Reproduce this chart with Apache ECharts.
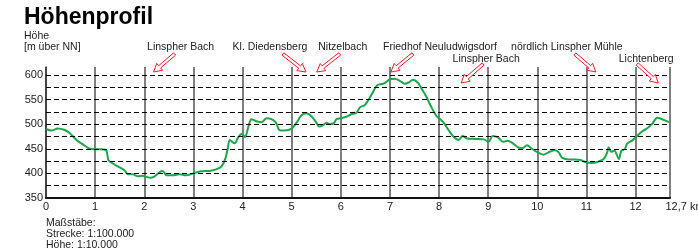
<!DOCTYPE html>
<html>
<head>
<meta charset="utf-8">
<script src="https://cdn.jsdelivr.net/npm/echarts@6/dist/echarts.min.js"></script>
<style>
  html, body { margin: 0; padding: 0; background: #fff; }
  #chart { width: 698px; height: 248px; }
</style>
</head>
<body>
<div id="chart"></div>
<script>
// Streckenkilometer und Höhe (m über NN)
const distanceKm = [
    0, 0.11, 0.24, 0.38, 0.48, 0.62, 0.75, 0.87, 1.0, 1.13, 1.23, 1.27, 1.36, 1.5, 1.6, 1.67, 1.77, 1.87, 1.97, 2.04,
    2.13, 2.21, 2.28, 2.36, 2.4, 2.45, 2.58, 2.72, 2.85, 3.0, 3.13, 3.33, 3.46, 3.57, 3.65, 3.7, 3.74, 3.84, 3.91, 3.98,
    4.05, 4.12, 4.18, 4.28, 4.39, 4.49, 4.59, 4.68, 4.75, 4.86, 5.0, 5.1, 5.2, 5.3, 5.4, 5.49, 5.56, 5.64, 5.71, 5.78,
    5.86, 5.91, 6.0, 6.11, 6.21, 6.32, 6.39, 6.49, 6.58, 6.66, 6.74, 6.86, 6.93, 7.0, 7.1, 7.2, 7.3, 7.37, 7.47, 7.57,
    7.64, 7.74, 7.84, 7.95, 8.0, 8.1, 8.2, 8.3, 8.4, 8.48, 8.57, 8.74, 8.91, 9.01, 9.09, 9.2, 9.3, 9.39, 9.49, 9.59,
    9.69, 9.79, 9.89, 10.0, 10.13, 10.25, 10.37, 10.44, 10.5, 10.64, 10.77, 10.88, 10.98, 11.1, 11.22, 11.35, 11.42, 11.45, 11.5, 11.57,
    11.62, 11.66, 11.71, 11.78, 11.83, 11.92, 12.0, 12.13, 12.23, 12.34, 12.44, 12.54, 12.68
];
const elevation = [
    490, 487, 491, 488, 482, 468, 459, 451, 449, 449, 446, 427, 420, 412, 406, 398, 398, 394, 395, 393,
    391, 394, 400, 405, 403, 396, 396, 398, 396, 400, 404, 405, 408, 414, 430, 451, 468, 461, 473, 480,
    474, 495, 510, 506, 504, 512, 510, 503, 488, 487, 491, 503, 518, 522, 516, 505, 495, 498, 503, 500,
    502, 510, 512, 515, 520, 523, 534, 539, 552, 566, 579, 582, 586, 591, 592, 588, 582, 584, 590, 584,
    573, 556, 535, 516, 512, 502, 487, 474, 468, 476, 471, 470, 469, 464, 476, 473, 464, 466, 462, 454,
    451, 457, 450, 443, 438, 444, 447, 442, 432, 428, 428, 427, 423, 421, 423, 429, 442, 453, 444, 446,
    437, 429, 446, 449, 461, 466, 473, 485, 491, 501, 513, 510, 504
];
const dashedLevels = [375, 400, 425, 450, 475, 500, 525, 550, 575, 600];

// Ortsangaben: Zielpunkt (km), Zeile, Pfeil- und Textversatz in px
const placeNames = ['Linspher Bach', 'Kl. Diedensberg', 'Nitzelbach', 'Friedhof Neuludwigsdorf',
    'Linspher Bach', 'nördlich Linspher Mühle', 'Lichtenberg'];
const placeKm = [2.19, 5.29, 5.51, 7.02, 8.45, 11.19, 12.46];
const placeRow = [0, 0, 0, 0, 1, 0, 1];
const tailDx = [21, -23, 23, 22, 22, -21, -21];
const labelDx = [27, -36, 26, 49, 25, -29, -12];

const profile = distanceKm.map((d, i) => [d, elevation[i]]);

const chart = echarts.init(document.getElementById('chart'));
chart.setOption({
    animation: false,
    textStyle: { fontFamily: 'Liberation Sans, Arial, sans-serif' },
    grid: { left: 46, right: 28, top: 67, bottom: 50, outerBoundsMode: 'none', containLabel: false },
    xAxis: {
        type: 'value',
        min: 0,
        max: 12.7,
        interval: 1,
        axisLine: { show: true, onZero: false, lineStyle: { color: '#111', width: 2 } },
        axisTick: { show: false },
        axisLabel: {
            color: '#222',
            fontSize: 11,
            margin: 3,
            formatter: v => (v === 12.7 ? '{k|12,7 km}' : String(v)),
            rich: { k: { fontSize: 11, color: '#222', padding: [0, 0, 0, 30] } }
        },
        splitLine: { show: true, lineStyle: { color: '#555', width: 1.5 } }
    },
    yAxis: {
        type: 'value',
        min: 350,
        max: 616,
        interval: 50,
        axisLine: { show: true, lineStyle: { color: '#333', width: 1.5 } },
        axisTick: { show: false },
        axisLabel: { color: '#222', fontSize: 11, margin: 3, showMaxLabel: false },
        splitLine: { show: false }
    },
    series: [{
        type: 'line',
        data: profile,
        smooth: 0.3,
        symbol: 'none',
        lineStyle: { color: '#1ea64c', width: 2 },
        markLine: {
            silent: true,
            symbol: 'none',
            label: { show: false },
            lineStyle: { color: '#000', width: 1, type: [5, 3] },
            data: dashedLevels.map(v => ({ yAxis: v }))
        },
        z: 3
    }]
});

// Beschriftungen und Pfeile
function arrowPoints(t, h) {
    const dx = h[0] - t[0], dy = h[1] - t[1];
    const len = Math.sqrt(dx * dx + dy * dy);
    const u = [dx / len, dy / len], n = [-u[1], u[0]];
    const p = (a, b) => [t[0] + a * u[0] + b * n[0], t[1] + a * u[1] + b * n[1]];
    const hl = 8;
    return [p(0, -1.5), p(len - hl, -1.5), p(len - hl, -4.5), p(len, 0),
        p(len - hl, 4.5), p(len - hl, 1.5), p(0, 1.5)];
}

const rowHeadY = [72, 83], rowTailY = [54, 64], rowLabelY = [47, 59];
const small = '10.5px Liberation Sans';
const elements = [
    { type: 'text', left: 24, top: 6, style: { text: 'Höhenprofil', font: 'bold 23px Liberation Sans', fill: '#000' } },
    { type: 'text', left: 24, top: 31, style: { text: 'Höhe', font: small, fill: '#222' } },
    { type: 'text', left: 24, top: 42, style: { text: '[m über NN]', font: small, fill: '#222' } },
    { type: 'text', left: 46, top: 218, style: { text: 'Maßstäbe:', font: small, fill: '#222' } },
    { type: 'text', left: 46, top: 229, style: { text: 'Strecke: 1:100.000', font: small, fill: '#222' } },
    { type: 'text', left: 46, top: 240, style: { text: 'Höhe: 1:10.000', font: small, fill: '#222' } }
];
placeNames.forEach((name, i) => {
    const hx = chart.convertToPixel({ gridIndex: 0 }, [placeKm[i], 600])[0];
    const r = placeRow[i];
    const head = [hx, rowHeadY[r]];
    const tail = [hx + tailDx[i], rowTailY[r]];
    elements.push({
        type: 'polygon',
        shape: { points: arrowPoints(tail, head) },
        style: { fill: '#fff', stroke: '#e8202a', lineWidth: 1 },
        z: 10
    });
    elements.push({
        type: 'text',
        x: hx + labelDx[i],
        y: rowLabelY[r],
        style: {
            text: name,
            font: small,
            fill: '#222',
            textAlign: 'center',
            textVerticalAlign: 'middle'
        },
        z: 10
    });
});
chart.setOption({ graphic: { elements: elements } });

window.addEventListener('resize', function() {
    chart.resize();
});
</script>
</body>
</html>
